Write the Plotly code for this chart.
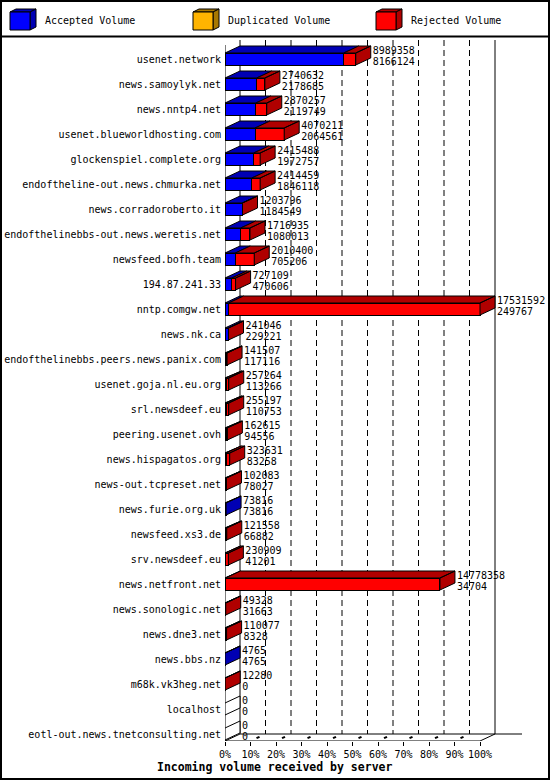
import plotly.graph_objects as go

# incoming volume per peer
servers = [
    "usenet.network", "news.samoylyk.net", "news.nntp4.net",
    "usenet.blueworldhosting.com", "glockenspiel.complete.org",
    "endoftheline-out.news.chmurka.net", "news.corradoroberto.it",
    "endofthelinebbs-out.news.weretis.net", "newsfeed.bofh.team",
    "194.87.241.33", "nntp.comgw.net", "news.nk.ca",
    "endofthelinebbs.peers.news.panix.com", "usenet.goja.nl.eu.org",
    "srl.newsdeef.eu", "peering.usenet.ovh", "news.hispagatos.org",
    "news-out.tcpreset.net", "news.furie.org.uk", "newsfeed.xs3.de",
    "srv.newsdeef.eu", "news.netfront.net", "news.sonologic.net",
    "news.dne3.net", "news.bbs.nz", "m68k.vk3heg.net", "localhost",
    "eotl-out.news.tnetconsulting.net",
]
total_volume = [
    8989358, 2740632, 2870257, 4070211, 2415488, 2414459, 1203796,
    1716935, 2010400, 727109, 17531592, 241046, 141507, 257264, 255197,
    162615, 323631, 102083, 73816, 121558, 230909, 14778358, 49328,
    110077, 4765, 12280, 0, 0,
]
accepted_volume = [
    8166124, 2178685, 2119749, 2064561, 1972757, 1846118, 1184549,
    1080013, 705206, 470606, 249767, 229221, 117116, 113266, 110753,
    94556, 83258, 78027, 73816, 66882, 41201, 34704, 31663, 8328, 4765,
    0, 0, 0,
]
duplicated_volume = [
    0, 0, 0, 0, 0, 0, 0, 0, 0, 0, 0, 0, 0, 0,
    0, 0, 0, 0, 0, 0, 0, 0, 0, 0, 0, 0, 0, 0,
]
pct_ticks = [0, 10, 20, 30, 40, 50, 60, 70, 80, 90, 100]
pct_labels = ["0%", "10%", "20%", "30%", "40%", "50%", "60%", "70%", "80%", "90%", "100%"]

FONT = "DejaVu Sans Mono"
BLUE, BLUE_DARK = "#0000ff", "#0000b4"
ORANGE, ORANGE_DARK = "#ffb400", "#a87800"
RED, RED_DARK = "#ff0000", "#b00000"

# geometry of the fake 3d look (px -> data units)
W, H_FIG = 550, 780
L, R, T, B = 225, 25, 38, 39
PX_PCT = 2.55          # pixels per percent
ROW = 25.0             # pixels per row
DX = 15 / PX_PCT       # depth in x
DY = 7 / ROW           # depth in y
BAR_H = 12 / ROW
FLOOR_F = len(servers) - 1 + DY
FLOOR_B = len(servers) - 1
WALL_TOP = -0.76
Y_TOP = -(59 - T) / ROW
X_MAX = (W - L - R) / PX_PCT
TXT_GAP = 2 / PX_PCT

vmax = max(total_volume)
acc = [v * 100 / vmax for v in accepted_volume]
dup = [v * 100 / vmax for v in duplicated_volume]
rej = [(t - a - d) * 100 / vmax for t, a, d in zip(total_volume, accepted_volume, duplicated_volume)]
rows = list(range(len(servers)))


def px_x(p):
    return (p - L) / (W - L - R)


def px_y(p):
    return (H_FIG - B - p) / (H_FIG - T - B)


fig = go.Figure()

# front faces
for vals, col, name in [(acc, BLUE, "Accepted Volume"), (dup, ORANGE, "Duplicated Volume"),
                        (rej, RED, "Rejected Volume")]:
    fig.add_trace(go.Bar(
        y=rows, x=vals, orientation="h", width=BAR_H, name=name,
        marker=dict(color=col, line=dict(color="black", width=1)),
        showlegend=False, hoverinfo="skip",
    ))

# top and side faces
faces = {BLUE_DARK: ([], []), ORANGE_DARK: ([], []), RED_DARK: ([], []), "white": ([], [])}


def add_poly(color, pts):
    xs, ys = faces[color]
    for x, y in pts:
        xs.append(x)
        ys.append(y)
    xs.append(pts[0][0])
    ys.append(pts[0][1])
    xs.append(None)
    ys.append(None)


label_x = []
for i in rows:
    top, bot = i - BAR_H / 2, i + BAR_H / 2
    start = 0.0
    side = "white"
    for w, dark in [(acc[i], BLUE_DARK), (dup[i], ORANGE_DARK), (rej[i], RED_DARK)]:
        if w > 0:
            add_poly(dark, [(start, top), (start + DX, top - DY), (start + w + DX, top - DY), (start + w, top)])
            start += w
            side = dark
    add_poly(side, [(start, top), (start + DX, top - DY), (start + DX, bot - DY), (start, bot)])
    label_x.append(start + DX + TXT_GAP)

for color, (xs, ys) in faces.items():
    fig.add_trace(go.Scatter(
        x=xs, y=ys, mode="lines", fill="toself", fillcolor=color,
        line=dict(color="black", width=1), showlegend=False, hoverinfo="skip",
    ))

# value labels: total on top, accepted below
fig.add_trace(go.Scatter(
    x=label_x, y=[i - 0.3 for i in rows], mode="text",
    text=[str(v) for v in total_volume], textposition="middle right",
    textfont=dict(family=FONT, size=10, color="black"),
    cliponaxis=False, showlegend=False, hoverinfo="skip",
))
fig.add_trace(go.Scatter(
    x=label_x, y=[i + 0.13 for i in rows], mode="text",
    text=[str(v) for v in accepted_volume], textposition="middle right",
    textfont=dict(family=FONT, size=10, color="black"),
    cliponaxis=False, showlegend=False, hoverinfo="skip",
))

# walls, floor and dashed grid (behind the bars)
shapes = []


def seg(x0, y0, x1, y1, dash="solid", width=1):
    shapes.append(dict(type="line", xref="x", yref="y", x0=x0, y0=y0, x1=x1, y1=y1,
                       line=dict(color="black", width=width, dash=dash), layer="below"))


for k in pct_ticks[1:-1]:
    seg(k + DX, WALL_TOP, k + DX, FLOOR_B, dash="6px,4px")
seg(0, -0.56, 0, FLOOR_F)
seg(DX, WALL_TOP, DX, FLOOR_B)
seg(100 + DX, WALL_TOP, 100 + DX, FLOOR_B)
seg(0, FLOOR_F, 100, FLOOR_F)
seg(100, FLOOR_F, 100 + DX, FLOOR_B)
seg(0, FLOOR_F, DX, FLOOR_B)
seg(DX, FLOOR_B, (522 - L) / PX_PCT, FLOOR_B)
# little depth marks on the floor between front tick and back grid line
for k in pct_ticks[1:-1]:
    seg(k + 0.4 * DX, FLOOR_F - 0.4 * DY, k + 0.6 * DX, FLOOR_F - 0.6 * DY, width=2)

# frame and legend strip
shapes.append(dict(type="rect", xref="paper", yref="paper", x0=px_x(1), x1=px_x(549),
                   y0=px_y(1), y1=px_y(779), line=dict(color="black", width=2)))
shapes.append(dict(type="line", xref="paper", yref="paper", x0=px_x(1), x1=px_x(549),
                   y0=px_y(36.5), y1=px_y(36.5), line=dict(color="black", width=2)))

annotations = []
legend_items = [(10, BLUE, BLUE_DARK, "Accepted Volume"),
                (193, ORANGE, ORANGE_DARK, "Duplicated Volume"),
                (376, RED, RED_DARK, "Rejected Volume")]
for x0, front, dark, label in legend_items:
    def path(pts):
        return "M" + " L".join(f"{px_x(a)},{px_y(b)}" for a, b in pts) + " Z"
    for pts, col in [([(x0, 12), (x0 + 6, 9), (x0 + 26, 9), (x0 + 20, 12)], dark),
                     ([(x0 + 20, 12), (x0 + 26, 9), (x0 + 26, 27), (x0 + 20, 30)], dark),
                     ([(x0, 12), (x0 + 20, 12), (x0 + 20, 30), (x0, 30)], front)]:
        shapes.append(dict(type="path", xref="paper", yref="paper", path=path(pts),
                           fillcolor=col, line=dict(color="black", width=1)))
    annotations.append(dict(xref="paper", yref="paper", x=px_x(x0 + 33), y=px_y(21),
                            xanchor="left", yanchor="middle", showarrow=False, text=label,
                            font=dict(family=FONT, size=10, color="black")))

annotations.append(dict(xref="paper", yref="paper", x=px_x(274), y=px_y(767),
                        xanchor="center", yanchor="middle", showarrow=False,
                        text="<b>Incoming volume received by server</b>",
                        font=dict(family=FONT, size=11.5, color="black")))

fig.update_layout(
    width=W, height=H_FIG,
    margin=dict(l=L, r=R, t=T, b=B, pad=0, autoexpand=False),
    barmode="stack",
    paper_bgcolor="white", plot_bgcolor="white",
    shapes=shapes, annotations=annotations,
    showlegend=False,
    xaxis=dict(range=[0, X_MAX], tickmode="array", tickvals=pct_ticks, ticktext=pct_labels,
               ticks="outside", ticklen=4, tickcolor="black", showgrid=False, zeroline=False,
               showline=False, automargin=False,
               tickfont=dict(family=FONT, size=10, color="black"), fixedrange=True),
    yaxis=dict(range=[FLOOR_F, Y_TOP], tickmode="array", tickvals=rows, ticktext=servers,
               ticks="", showgrid=False, zeroline=False, showline=False, ticklabelstandoff=3,
               automargin=False,
               tickfont=dict(family=FONT, size=10, color="black"), fixedrange=True),
)

# the page body has a default 8px margin; drop it so the chart sits at the window corner
fig.write_html("out.html", config={"displayModeBar": False},
               post_script="document.body.style.margin='0';document.body.style.overflow='hidden';")
